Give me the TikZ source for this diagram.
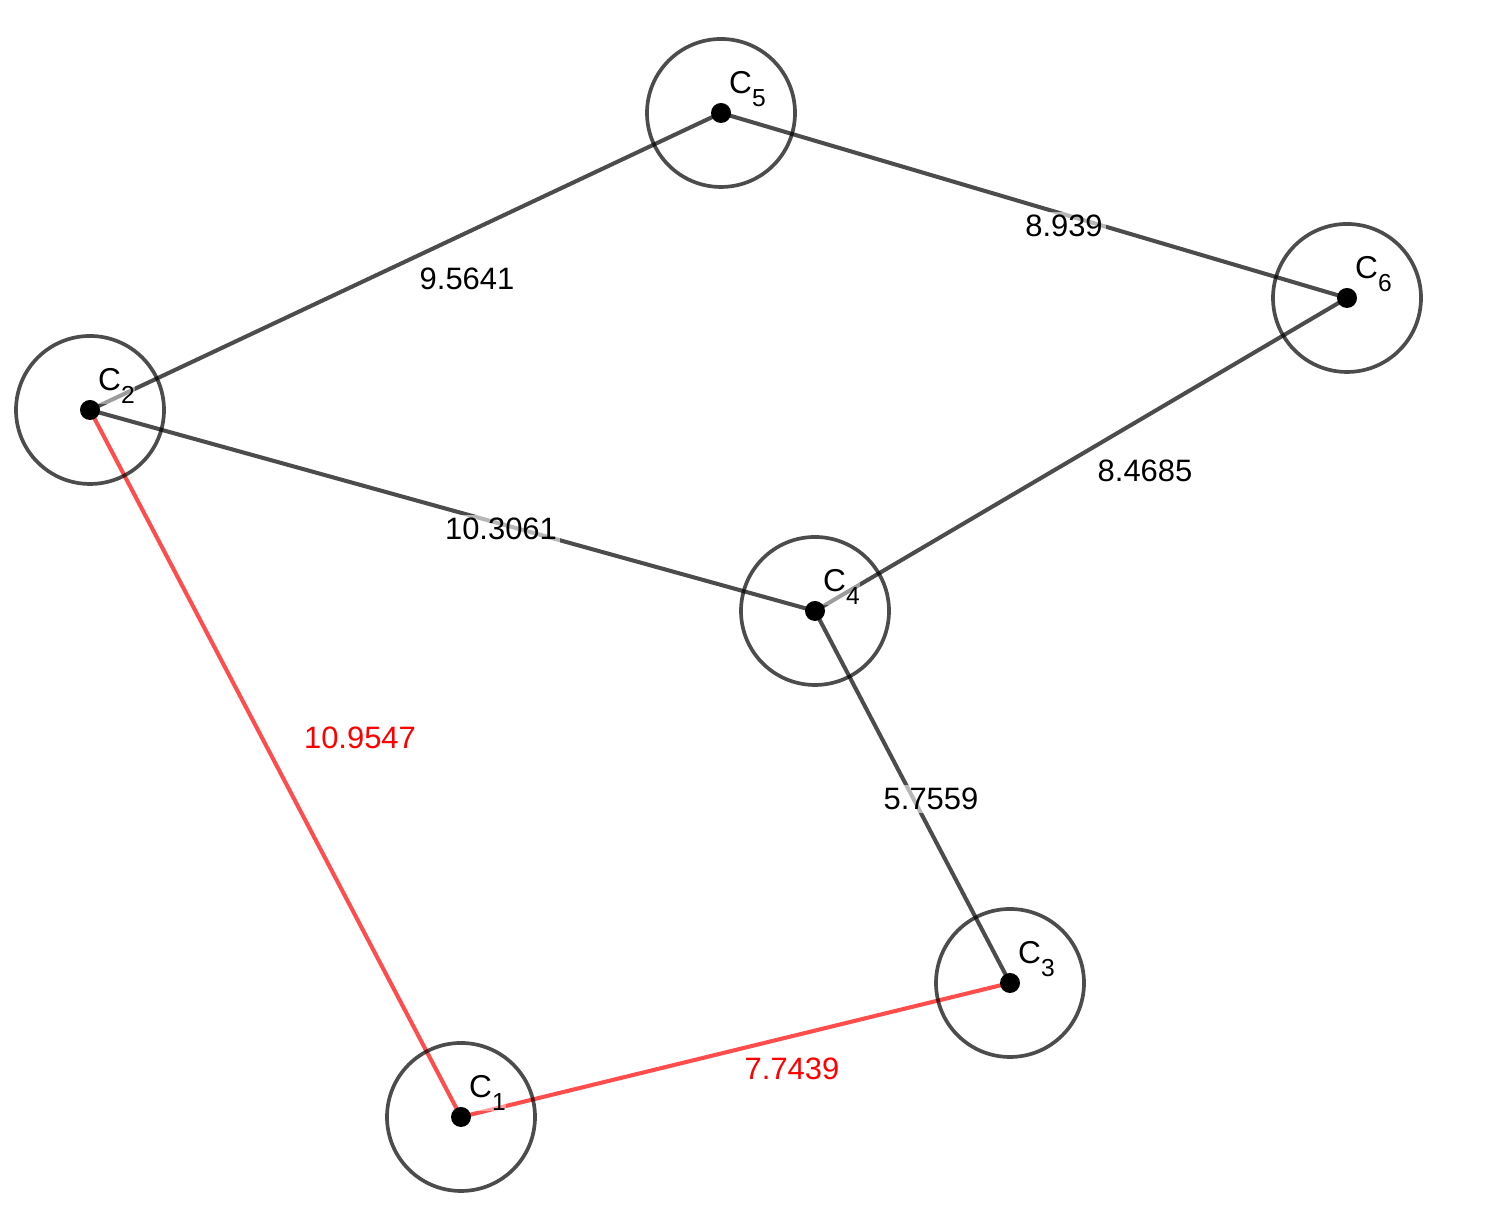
\documentclass[tikz,border=0pt]{standalone}
\usepackage{fontspec}
\setmainfont{Liberation Sans}
\usetikzlibrary{positioning}

\newcommand{\clab}[1]{C\raisebox{-3.7pt}{\fontsize{7}{8}\selectfont #1}}

\tikzset{
	edge/.style={line width=1.15pt,black,draw opacity=0.7},
	redge/.style={line width=1.15pt,red,draw opacity=0.7},
	ring/.style={line width=1.05pt,black,draw opacity=0.7},
	wlabel/.style={fill=white,fill opacity=0.6,text opacity=1,inner sep=1pt,font=\fontsize{8.8}{10}\selectfont},
	clabel/.style={fill=white,fill opacity=0.45,text opacity=1,inner sep=0pt,font=\fontsize{9}{10}\selectfont}
}

\begin{document}
\begin{tikzpicture}
	\useasboundingbox (0,0) rectangle (14.95,12.05);
	
	% centres
	\coordinate (c1) at (4.61,0.88);
	\coordinate (c2) at (0.90,7.95);
	\coordinate (c3) at (10.10,2.22);
	\coordinate (c4) at (8.15,5.94);
	\coordinate (c5) at (7.21,10.92);
	\coordinate (c6) at (13.47,9.07);
	
	% edges
	\draw[edge] (c2) -- (c5);
	\draw[edge] (c5) -- (c6);
	\draw[edge] (c2) -- (c4);
	\draw[edge] (c4) -- (c6);
	\draw[edge] (c4) -- (c3);
	\draw[redge] (c2) -- (c1);
	\draw[redge] (c1) -- (c3);
	
	% circles and dots
	\foreach \c in {c1,c2,c3,c4,c5,c6}{
		\draw[ring] (\c) circle (0.74);
		\fill (\c) circle (0.1);
	}
	
	% weights
	\node[wlabel] (w25) at (4.67,9.26) {9.5641};
	\node[wlabel] (w56) at (10.64,9.79) {8.939};
	\node[wlabel] (w24) at (5.01,6.76) {10.3061};
	\node[wlabel] (w46) at (11.45,7.34) {8.4685};
	\node[wlabel,text=red] (w12) at (3.60,4.67) {10.9547};
	\node[wlabel] (w34) at (9.31,4.06) {5.7559};
	\node[wlabel,text=red] (w13) at (7.92,1.36) {7.7439};
	
	% names
	\node[clabel,above right=0.055cm and 0.075cm of c1] (n1) {\clab{1}};
	\node[clabel,above right=0.055cm and 0.075cm of c2] (n2) {\clab{2}};
	\node[clabel,above right=0.055cm and 0.075cm of c3] (n3) {\clab{3}};
	\node[clabel,above right=0.055cm and 0.075cm of c4] (n4) {\clab{4}};
	\node[clabel,above right=0.055cm and 0.075cm of c5] (n5) {\clab{5}};
	\node[clabel,above right=0.055cm and 0.075cm of c6] (n6) {\clab{6}};
\end{tikzpicture}
\end{document}
